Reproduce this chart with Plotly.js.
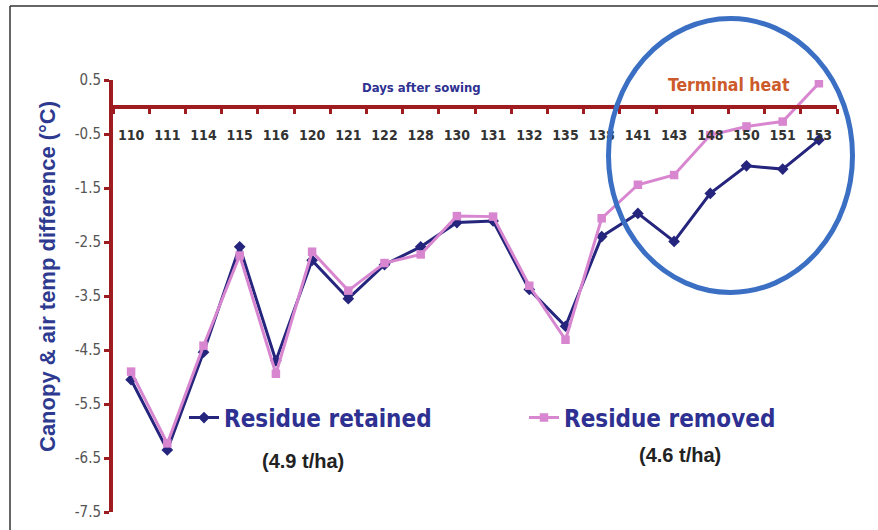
<!DOCTYPE html>
<html>
<head>
<meta charset="utf-8">
<script src="https://cdn.plot.ly/plotly-3.0.1.min.js"></script>
<style>html,body{margin:0;padding:0;background:#fff;}#chart{width:878px;height:530px;}</style>
</head>
<body>
<div id="chart"></div>
<script>
// Days after sowing (categories)
const days = ['110','111','114','115','116','120','121','122','128','130','131','132','135','138','141','143','148','150','151','153'];
// Canopy & air temperature difference (°C)
const residueRetained = [-5.05,-6.35,-4.54,-2.59,-4.70,-2.84,-3.55,-2.92,-2.59,-2.14,-2.11,-3.38,-4.06,-2.40,-1.97,-2.49,-1.60,-1.09,-1.15,-0.61];
const residueRemoved  = [-4.90,-6.23,-4.42,-2.75,-4.94,-2.68,-3.40,-2.89,-2.73,-2.02,-2.03,-3.31,-4.31,-2.06,-1.44,-1.26,-0.52,-0.36,-0.27,0.44];
const seriesNames = ['Residue retained','Residue removed'];
const yieldLabels = ['(4.9 t/ha)','(4.6 t/ha)'];
const yTicks = [-7.5,-6.5,-5.5,-4.5,-3.5,-2.5,-1.5,-0.5,0.5];

const axisRed = '#9e1b20';
const navy = '#25257d';
const pink = '#d886cf';
const cond = '"DejaVu Sans Condensed", "DejaVu Sans", sans-serif';
const sans = '"Liberation Sans", Arial, sans-serif';

const traces = [
  {x: days, y: residueRetained, name: seriesNames[0], type: 'scatter', mode: 'lines+markers', legend: 'legend',
   line: {color: navy, width: 3}, marker: {symbol: 'diamond', size: 9, color: navy}},
  {x: days, y: residueRemoved, name: seriesNames[1], type: 'scatter', mode: 'lines+markers', legend: 'legend2',
   line: {color: pink, width: 3}, marker: {symbol: 'square', size: 8.5, color: pink}}
];

const L = 113, R = 837, T = 80, B = 512;
const px = v => (v - L) / (R - L);
const py = v => (B - v) / (B - T);

const legendStyle = (xPix) => ({orientation: 'h', x: px(xPix), xanchor: 'left', y: py(418), yanchor: 'middle',
    font: {family: cond, size: 24, color: '#2e3191', weight: 'bold'},
    itemwidth: 30, bgcolor: 'rgba(0,0,0,0)'});

const layout = {
  width: 878, height: 530,
  margin: {l: L, r: 878 - R, t: T, b: 530 - B, pad: 0},
  paper_bgcolor: '#fff', plot_bgcolor: '#fff',
  showlegend: true,
  hovermode: false,
  legend: legendStyle(184),
  legend2: legendStyle(524),
  xaxis: {type: 'category', anchor: 'free', position: 7.5 / 8, side: 'bottom',
    showline: true, linecolor: axisRed, linewidth: 4, showgrid: false, zeroline: false,
    ticks: 'outside', tickson: 'boundaries', ticklen: 5, tickwidth: 3, tickcolor: axisRed,
    ticklabelstandoff: 14, tickangle: 0,
    tickfont: {family: cond, size: 14, color: '#333', weight: 'bold'},
    range: [-0.5, days.length - 0.5], fixedrange: true},
  yaxis: {range: [-7.5, 0.5], tickvals: yTicks, ticktext: yTicks.map(v => v.toFixed(1)),
    showline: true, linecolor: axisRed, linewidth: 4, showgrid: false, zeroline: false,
    ticks: 'outside', ticklen: 5, tickwidth: 3, tickcolor: axisRed,
    tickfont: {family: cond, size: 15, color: '#555'}, fixedrange: true},
  annotations: [
    {text: 'Days after sowing', xref: 'paper', yref: 'paper', x: px(421), y: py(87), xanchor: 'center', yanchor: 'middle', showarrow: false,
     font: {family: cond, size: 13, color: '#2e3191', weight: 'bold'}},
    {text: 'Terminal heat', xref: 'paper', yref: 'paper', x: px(729), y: py(85), xanchor: 'center', yanchor: 'middle', showarrow: false,
     font: {family: cond, size: 17.5, color: '#cc5a2a', weight: 'bold'}},
    {text: 'Canopy &amp; air temp difference (°C)', xref: 'paper', yref: 'paper', x: px(47), y: py(277),
     xanchor: 'center', yanchor: 'middle',
     textangle: -90, showarrow: false, font: {family: sans, size: 22, color: '#2e3a8f', weight: 'bold'}},
    {text: yieldLabels[0], xref: 'paper', yref: 'paper', x: px(303), y: py(461), xanchor: 'center', yanchor: 'middle', showarrow: false,
     font: {family: sans, size: 20, color: '#222', weight: 'bold'}},
    {text: yieldLabels[1], xref: 'paper', yref: 'paper', x: px(680), y: py(455), xanchor: 'center', yanchor: 'middle', showarrow: false,
     font: {family: sans, size: 20, color: '#222', weight: 'bold'}}
  ],
  shapes: [
    {type: 'circle', xref: 'paper', yref: 'paper', x0: px(608.5), x1: px(852.5), y0: py(292.5), y1: py(18.5),
     line: {color: '#3a6fc4', width: 5}, layer: 'above'},
    {type: 'line', xref: 'paper', yref: 'paper', x0: px(10), x1: px(10), y0: py(6), y1: py(531),
     line: {color: '#333', width: 1.5}},
    {type: 'line', xref: 'paper', yref: 'paper', x0: px(10), x1: px(879), y0: py(6), y1: py(6),
     line: {color: '#333', width: 1.5}}
  ]
};

Plotly.newPlot('chart', traces, layout, {displayModeBar: false, staticPlot: true});
</script>
</body>
</html>
